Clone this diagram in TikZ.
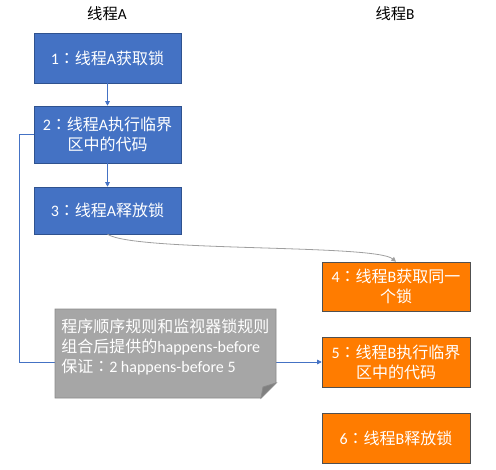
\documentclass[tikz,border=0pt]{standalone}
\usepackage{fontspec}
\setmainfont{Noto Sans CJK SC}
\newfontfamily\tcfont{Noto Sans CJK TC}
\newfontfamily\latfont{Carlito}
\newcommand{\lt}[1]{{\latfont #1}}
\newcommand{\cl}{{\tcfont ：}}
\usepackage{tikz}
\usetikzlibrary{positioning}
\usetikzlibrary{arrows.meta}
\usepackage{xcolor}
\definecolor{ablue}{HTML}{4472C4}
\definecolor{abluedark}{HTML}{2F528F}
\definecolor{borange}{HTML}{FF7C00}
\definecolor{borangedark}{HTML}{505050}
\definecolor{notegray}{HTML}{A6A6A6}
\definecolor{notedark}{HTML}{8A8A8A}
\definecolor{foldgray}{HTML}{7F7F7F}

\begin{document}
\begin{tikzpicture}[x=0.75pt, y=-0.75pt,
        every node/.style={font=\fontsize{12}{15}\selectfont, inner sep=0pt},
        head/.style={text=black, font=\fontsize{11.5}{14}\selectfont},
        a/.style={draw=abluedark, fill=ablue, text=white, align=center, minimum width=110.25pt},
        b/.style={draw=borangedark, fill=borange, text=white, align=center, minimum width=111pt, minimum height=37.5pt},
        link/.style={draw=ablue, line width=0.6pt, -{Triangle[length=3.5pt, width=3.5pt]}},
        curve/.style={draw=gray!75, line width=0.6pt, -{Triangle[length=3.5pt, width=3.5pt]}}]
        \useasboundingbox (0, 0) rectangle (496, 470);

        \node[head] (ha) at (107, 14) {线程\lt{A}};
        \node[head] (hb) at (395, 14) {线程\lt{B}};

        \node[a, minimum height=37.5pt] (a1) at (107.5, 58) {\lt{1}\cl 线程\lt{A}获取锁};
        \node[a, minimum height=42.75pt] (a2) at (107.5, 134.5) {\lt{2}\cl 线程\lt{A}执行临界\\区中的代码};
        \node[a, minimum height=35.25pt] (a3) at (107.5, 210.5) {\lt{3}\cl 线程\lt{A}释放锁};

        \node[b, minimum height=36.75pt] (b4) at (396, 286.5) {\lt{4}\cl 线程\lt{B}获取同一\\个锁};
        \node[b] (b5) at (396, 362) {\lt{5}\cl 线程\lt{B}执行临界\\区中的代码};
        \node[b] (b6) at (396, 438) {\lt{6}\cl 线程\lt{B}释放锁};

        \draw[link] (a1) -- (a2);
        \draw[link] (a2) -- (a3);
        \coordinate (bend) at (19, 134.5);
        \draw[link] (a2.west) -- (bend) |- (b5.west);
        \draw[curve] (a3.south) .. controls (135, 252) and (375, 244) .. (b4.north);

        % note
        \filldraw[fill=notegray, draw=notedark, line width=0.6pt]
            (55, 309) -- (276, 309) -- (276, 383) -- (261, 398) -- (55, 398) -- cycle;
        \filldraw[fill=foldgray, draw=notedark, line width=0.6pt]
            (276, 383) -- (263, 387) -- (261, 398) -- cycle;
        \node[text=white, align=left, anchor=north west] (note) at (61, 319)
            {程序顺序规则和监视器锁规则\\组合后提供的\lt{happens-before}\\保证\cl\lt{2 happens-before 5}};
    \end{tikzpicture}
\end{document}
